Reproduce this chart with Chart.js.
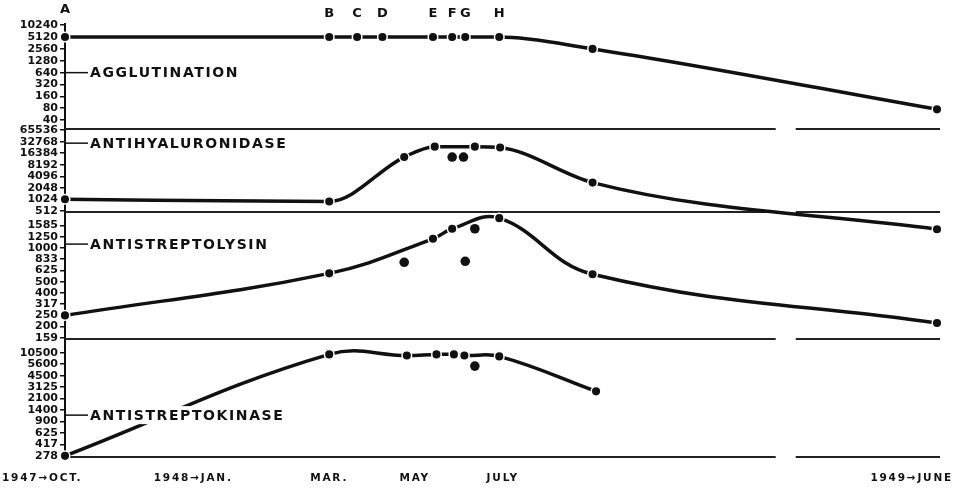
<!DOCTYPE html>
<html>
<head>
<meta charset="utf-8">
<script src="https://cdn.jsdelivr.net/npm/chart.js@4"></script>
<style>
  html, body { margin: 0; padding: 0; background: #fff; }
</style>
</head>
<body>
<canvas id="chart" width="955" height="489"></canvas>
<script>
// sampling letters along the top (x in axis units, 0 = Oct 1947, 100 = June 1949)
var sampleLetters = ['A', 'B', 'C', 'D', 'E', 'F', 'G', 'H'];
var sampleX = [0, 30.3, 33.5, 36.4, 42.2, 44.4, 45.9, 49.8];

// time labels along the bottom
var timeX = [0, 17.4, 30.3, 40.1, 50.2, 100];
var timeYear = ['1947', '1948', '', '', '', '1949'];
var timeMonth = ['OCT.', 'JAN.', 'MAR.', 'MAY', 'JULY', 'JUNE'];

// y tick labels of each panel (titers)
var aggTicks = [40, 80, 160, 320, 640, 1280, 2560, 5120, 10240];
var hyaTicks = [512, 1024, 2048, 4096, 8192, 16384, 32768, 65536];
var lysTicks = [159, 200, 250, 317, 400, 500, 625, 833, 1000, 1250, 1585];
var kinTicks = [278, 417, 625, 900, 1400, 2100, 3125, 4500, 5600, 10500];

// agglutination
var aggX = [0, 30.3, 33.5, 36.4, 42.2, 44.4, 45.9, 49.8, 60.5, 100];
var aggY = [5120, 5120, 5120, 5120, 5120, 5120, 5120, 5120, 2560, 75];

// antihyaluronidase
var hyaX = [0, 30.3, 38.9, 42.4, 47.0, 49.9, 60.5, 100];
var hyaY = [1024, 900, 13000, 24300, 24300, 23000, 2800, 170];
var hyaOffX = [44.4, 45.7];
var hyaOffY = [13000, 13000];

// antistreptolysin
var lysX = [0, 30.3, 42.2, 44.4, 49.8, 60.5, 100];
var lysY = [250, 590, 1200, 1480, 1850, 580, 215];
var lysOffX = [38.9, 45.9, 47.0];
var lysOffY = [770, 790, 1480];

// antistreptokinase
var kinX = [0, 30.3, 39.2, 42.6, 44.6, 45.8, 49.8, 60.9];
var kinY = [278, 9600, 9000, 9600, 9600, 9000, 8600, 2700];
var kinOffX = [47.0];
var kinOffY = [5400];

var panelNames = ['AGGLUTINATION', 'ANTIHYALURONIDASE', 'ANTISTREPTOLYSIN', 'ANTISTREPTOKINASE'];
var panelNameAt = [640, 30000, 1080, 1150];

// gap in the time axis (axis units)
var breakX = [81.5, 83.8];

// titer -> position on the evenly spaced tick ladder (log between ticks)
function level(v, ticks) {
	var i = 0;
	while (i < ticks.length - 2 && v > ticks[i + 1]) i++;
	return i + Math.log(v / ticks[i]) / Math.log(ticks[i + 1] / ticks[i]);
}

function pts(xs, ys, ticks) {
	return xs.map(function (x, i) { return { x: x, y: level(ys[i], ticks) }; });
}

// top to bottom
var panels = [
	{ id: 'yAgg', ticks: aggTicks, min: -0.75, max: 8.1, h: 105 },
	{ id: 'yHya', ticks: hyaTicks, min: -0.1, max: 7.1, h: 83 },
	{ id: 'yLys', ticks: lysTicks, min: -0.1, max: 11.2, h: 127 },
	{ id: 'yKin', ticks: kinTicks, min: -0.1, max: 10.2, h: 118 }
];

var ink = '#111';
var font = 'DejaVu Sans';

function lineSet(data, axis, mode) {
	return {
		type: 'line', data: data, yAxisID: axis, clip: false,
		borderColor: ink, borderWidth: 3.5, tension: 0.4,
		cubicInterpolationMode: mode || 'default',
		pointRadius: 4.8, pointBackgroundColor: ink,
		pointBorderColor: '#fff', pointBorderWidth: 1.5
	};
}

function dotSet(data, axis) {
	return {
		type: 'scatter', data: data, yAxisID: axis, clip: false, showLine: false,
		pointRadius: 4.8, pointBackgroundColor: ink,
		pointBorderColor: ink, pointBorderWidth: 0
	};
}

var scales = {
	x: { type: 'linear', display: false, min: 0, max: 100 }
};
// stacked axes are laid out bottom-up, so add them in reverse
panels.slice().reverse().forEach(function (p) {
	scales[p.id] = {
		type: 'linear', position: 'left', stack: 'panels', stackWeight: p.h,
		min: p.min, max: p.max,
		afterBuildTicks: function (s) {
			s.ticks = p.ticks.map(function (t, i) { return { value: i }; });
		},
		afterFit: function (s) { s.width = 65; },
		ticks: {
			autoSkip: false, padding: 2, color: ink,
			font: { family: font, weight: 'bold', size: 11 },
			callback: function (v) { return p.ticks[v]; }
		},
		grid: { drawOnChartArea: false, tickLength: 5, color: ink, lineWidth: 1.5 },
		border: { color: ink, width: 2 }
	};
});

var decor = {
	id: 'decor',
	beforeDatasetsDraw: function (chart) {
		var ctx = chart.ctx, a = chart.chartArea, xs = chart.scales.x;
		ctx.save();
		ctx.strokeStyle = '#222';
		ctx.lineWidth = 2;
		panels.forEach(function (p) {
			var y = chart.scales[p.id].bottom;
			ctx.beginPath();
			ctx.moveTo(a.left, y);
			ctx.lineTo(xs.getPixelForValue(breakX[0]), y);
			ctx.moveTo(xs.getPixelForValue(breakX[1]), y);
			ctx.lineTo(a.right + 3, y);
			ctx.stroke();
		});
		ctx.restore();
	},
	afterDatasetsDraw: function (chart) {
		var ctx = chart.ctx, a = chart.chartArea, xs = chart.scales.x;
		ctx.save();
		ctx.fillStyle = ink;
		ctx.strokeStyle = ink;

		// panel names with a lead line from the axis
		ctx.font = 'bold 14px "' + font + '"';
		ctx.letterSpacing = '1.6px';
		ctx.textBaseline = 'middle';
		ctx.textAlign = 'left';
		panels.forEach(function (p, i) {
			var y = chart.scales[p.id].getPixelForValue(level(panelNameAt[i], p.ticks));
			var w = ctx.measureText(panelNames[i]).width;
			ctx.fillStyle = '#fff';
			ctx.fillRect(a.left + 22, y - 9, w + 6, 18);
			ctx.fillStyle = ink;
			ctx.lineWidth = 1.5;
			ctx.beginPath();
			ctx.moveTo(a.left, y);
			ctx.lineTo(a.left + 23, y);
			ctx.stroke();
			ctx.fillText(panelNames[i], a.left + 25, y + 1);
		});

		// sampling letters
		ctx.font = 'bold 13px "' + font + '"';
		ctx.letterSpacing = '0px';
		ctx.textAlign = 'center';
		sampleLetters.forEach(function (l, i) {
			var y = i === 0 ? a.top - 14 : a.top - 10;
			ctx.fillText(l, xs.getPixelForValue(sampleX[i]), y);
		});

		// time labels: month centred on its date, year to the left, kept on the canvas
		ctx.font = 'bold 10.5px "' + font + '"';
		ctx.letterSpacing = '1.8px';
		ctx.textAlign = 'left';
		var yb = a.bottom + 21;
		timeMonth.forEach(function (m, i) {
			var pre = timeYear[i] ? timeYear[i] + '\u2192' : '';
			var wm = ctx.measureText(m).width;
			var wp = pre ? ctx.measureText(pre).width : 0;
			var left = xs.getPixelForValue(timeX[i]) - wm / 2 - wp;
			left = Math.max(2, Math.min(left, chart.width - 2 - wp - wm));
			ctx.fillText(pre + m, left, yb);
		});
		ctx.restore();
	}
};

new Chart(document.getElementById('chart'), {
	data: {
		datasets: [
			lineSet(pts(aggX, aggY, aggTicks), 'yAgg', 'monotone'),
			lineSet(pts(hyaX, hyaY, hyaTicks), 'yHya', 'monotone'),
			dotSet(pts(hyaOffX, hyaOffY, hyaTicks), 'yHya'),
			lineSet(pts(lysX, lysY, lysTicks), 'yLys'),
			dotSet(pts(lysOffX, lysOffY, lysTicks), 'yLys'),
			lineSet(pts(kinX, kinY, kinTicks), 'yKin'),
			dotSet(pts(kinOffX, kinOffY, kinTicks), 'yKin')
		]
	},
	options: {
		responsive: false,
		animation: false,
		layout: { padding: { top: 24, bottom: 32, right: 18, left: 0 } },
		scales: scales,
		plugins: { legend: { display: false }, tooltip: { enabled: false } }
	},
	plugins: [decor]
});
</script>
</body>
</html>
